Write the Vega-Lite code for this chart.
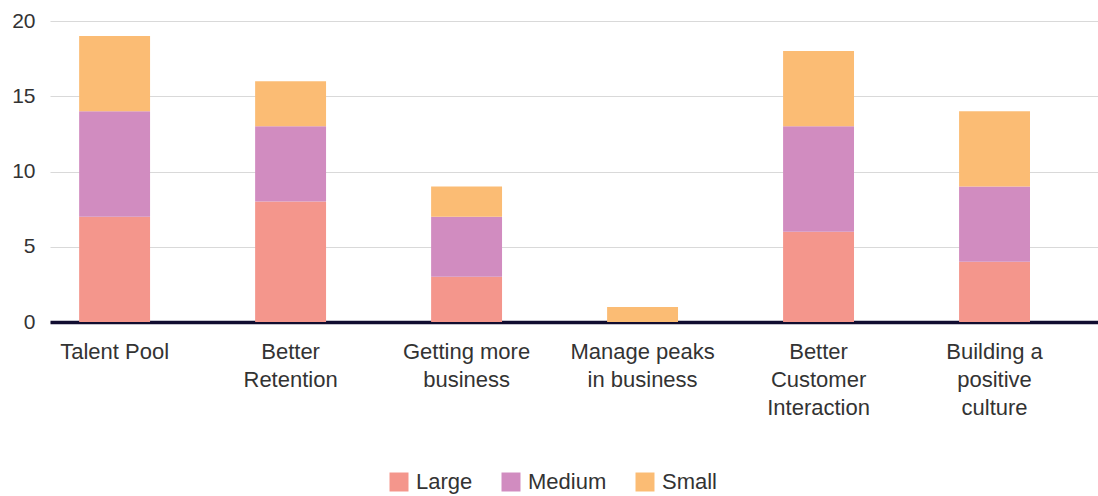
{
  "$schema": "https://vega.github.io/schema/vega-lite/v6.json",
  "autosize": {"type": "none"},
  "width": 1048,
  "height": 301,
  "padding": {"left": 50, "top": 21, "right": 0, "bottom": 174},
  "background": "white",
  "config": {
    "view": {"stroke": null},
    "font": "Liberation Sans",
    "text": {"font": "Liberation Sans"}
  },
  "data": {
    "values": [
      {"category": "Talent Pool", "size": "Large", "count": 7},
      {"category": "Talent Pool", "size": "Medium", "count": 7},
      {"category": "Talent Pool", "size": "Small", "count": 5},
      {"category": "Better Retention", "size": "Large", "count": 8},
      {"category": "Better Retention", "size": "Medium", "count": 5},
      {"category": "Better Retention", "size": "Small", "count": 3},
      {"category": "Getting more business", "size": "Large", "count": 3},
      {"category": "Getting more business", "size": "Medium", "count": 4},
      {"category": "Getting more business", "size": "Small", "count": 2},
      {"category": "Manage peaks in business", "size": "Large", "count": 0},
      {"category": "Manage peaks in business", "size": "Medium", "count": 0},
      {"category": "Manage peaks in business", "size": "Small", "count": 1},
      {"category": "Better Customer Interaction", "size": "Large", "count": 6},
      {"category": "Better Customer Interaction", "size": "Medium", "count": 7},
      {"category": "Better Customer Interaction", "size": "Small", "count": 5},
      {"category": "Building a positive culture", "size": "Large", "count": 4},
      {"category": "Building a positive culture", "size": "Medium", "count": 5},
      {"category": "Building a positive culture", "size": "Small", "count": 5}
    ]
  },
  "mark": {"type": "bar"},
  "encoding": {
    "x": {
      "field": "category",
      "type": "nominal",
      "sort": null,
      "scale": {"paddingInner": 0.597, "paddingOuter": 0.276, "align": 0.3},
      "axis": {
        "title": null,
        "labelAngle": 0,
        "labelFont": "Liberation Sans",
        "labelFontSize": 22,
        "labelColor": "#333333",
        "labelLineHeight": 28,
        "labelPadding": 19,
        "labelLimit": 300,
        "ticks": false,
        "domainColor": "#110d30",
        "domainWidth": 3.5,
        "labelExpr": "datum.value == 'Better Retention' ? ['Better', 'Retention'] : datum.value == 'Getting more business' ? ['Getting more', 'business'] : datum.value == 'Manage peaks in business' ? ['Manage peaks', 'in business'] : datum.value == 'Better Customer Interaction' ? ['Better', 'Customer', 'Interaction'] : datum.value == 'Building a positive culture' ? ['Building a', 'positive', 'culture'] : datum.value"
      }
    },
    "y": {
      "field": "count",
      "type": "quantitative",
      "stack": "zero",
      "scale": {"domain": [0, 20], "nice": false},
      "axis": {
        "title": null,
        "values": [0, 5, 10, 15, 20],
        "labelFont": "Liberation Sans",
        "labelFontSize": 21,
        "labelColor": "#333333",
        "labelPadding": 15,
        "ticks": false,
        "domain": false,
        "gridColor": "#d9d9d9",
        "gridWidth": 1.2
      }
    },
    "color": {
      "field": "size",
      "type": "nominal",
      "scale": {"domain": ["Large", "Medium", "Small"], "range": ["#F4968C", "#D18CC0", "#FBBC74"]},
      "legend": {
        "title": null,
        "orient": "none",
        "direction": "horizontal",
        "legendX": 338,
        "legendY": 450,
        "padding": 0,
        "symbolType": "square",
        "symbolSize": 361,
        "symbolStrokeWidth": 0,
        "labelFont": "Liberation Sans",
        "labelFontSize": 22,
        "labelColor": "#333333",
        "labelOffset": 6,
        "columnPadding": 27
      }
    },
    "order": {"field": "size", "sort": "ascending"}
  }
}
